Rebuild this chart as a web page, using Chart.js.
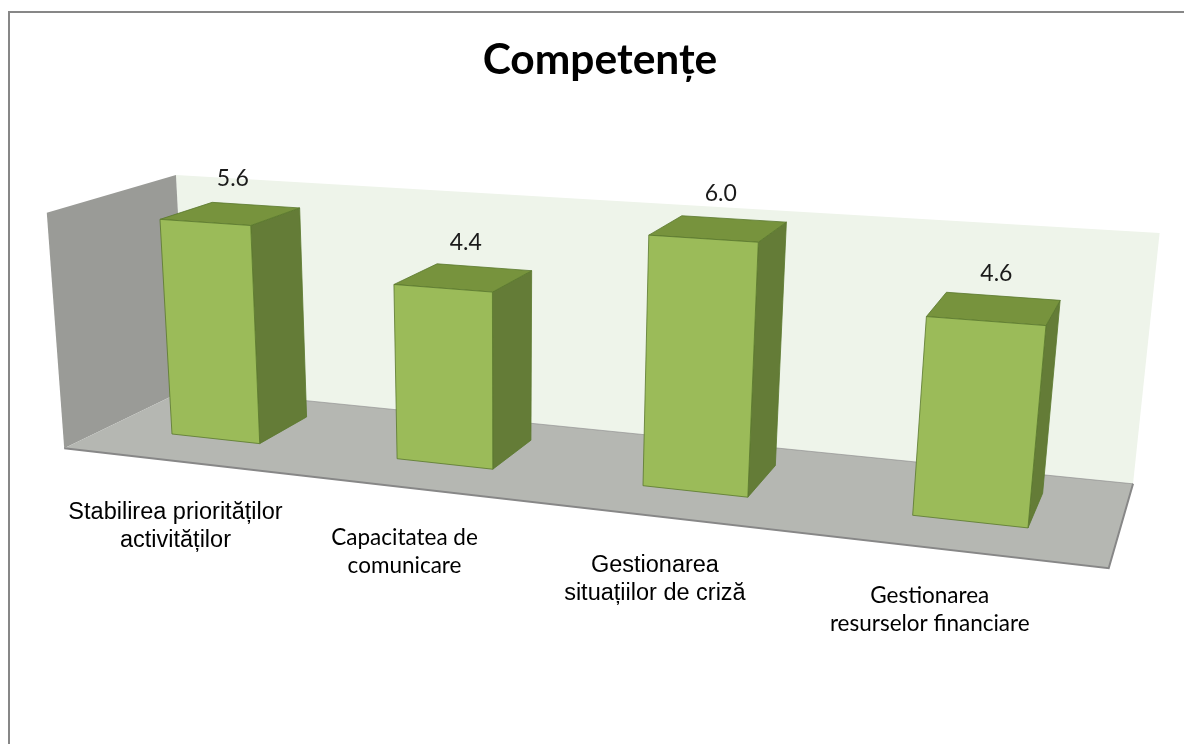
<!DOCTYPE html>
<html lang="ro">
<head>
<meta charset="UTF-8">
<title>Competențe</title>
<script src="https://cdn.jsdelivr.net/npm/chart.js"></script>
<style>
  html, body { margin: 0; padding: 0; background: #fff; }
  canvas { display: block; }
</style>
</head>
<body>
<canvas id="chart" width="1184" height="744"></canvas>
<script>
// data
const categories = [
  ['Stabilirea priorităților', 'activităților'],
  ['Capacitatea de', 'comunicare'],
  ['Gestionarea', 'situațiilor de criză'],
  ['Gestionarea', 'resurselor financiare']
];
const scores = [5.6, 4.4, 6.0, 4.6];
const axisMax = 6;

// look
const labelFonts = ['23.5px "Liberation Sans"', '22.5px Lato', '23.5px "Liberation Sans"', '22.5px Lato'];
const colors = {
  front: '#9bbb59', top: '#77933d', side: '#647c37', edge: 'rgba(90,120,45,0.8)',
  backWall: '#eef4ea', leftWall: '#9a9b97', floor: '#b5b7b2', rim: '#878787'
};

// Excel style 3D view: s = fraction along the x axis, v = value, z = depth
const view = {
  a: 823.0, b: -3.091, c: 108.1,
  d: 21.06, e: -39.19, f: 427.0,
  g: -0.1668, h: -0.006114,
  vpx: 1318, vpy: -158
};
const depth = { floorFront: -0.035, barBack: 0.045, wall: 0.07 };

function project(s, v, z) {
  const w = view.g * s + view.h * v + 1 + z;
  return [
    (view.a * s + view.b * v + view.c + view.vpx * z) / w,
    (view.d * s + view.e * v + view.f + view.vpy * z) / w
  ];
}

function poly(ctx, pts, fill, stroke) {
  ctx.beginPath();
  pts.forEach((p, i) => i ? ctx.lineTo(p[0], p[1]) : ctx.moveTo(p[0], p[1]));
  ctx.closePath();
  ctx.fillStyle = fill;
  ctx.fill();
  if (stroke) {
    ctx.strokeStyle = stroke;
    ctx.lineWidth = 1;
    ctx.stroke();
  }
}

const scene3d = {
  id: 'scene3d',
  beforeDraw(chart) {
    const ctx = chart.ctx;
    ctx.save();
    ctx.fillStyle = '#fff';
    ctx.fillRect(0, 0, chart.width, chart.height);
    ctx.strokeStyle = colors.rim;
    ctx.lineWidth = 2;
    ctx.beginPath();
    ctx.moveTo(9, chart.height);
    ctx.lineTo(9, 12);
    ctx.lineTo(chart.width, 12);
    ctx.stroke();
    ctx.restore();
  },
  beforeDatasetsDraw(chart) {
    const ctx = chart.ctx;
    const area = chart.chartArea;
    const ys = chart.scales.y;
    const top = ys.max;
    const ff = depth.floorFront, wz = depth.wall, bz = depth.barBack;
    ctx.save();

    // walls and floor
    poly(ctx, [project(0, 0, wz), project(1, 0, wz), project(1, top, wz), project(0, top, wz)], colors.backWall);
    poly(ctx, [project(0, 0, ff), project(0, 0, wz), project(0, top, wz), project(0, top, ff)], colors.leftWall);
    poly(ctx, [project(0, 0, ff), project(1, 0, ff), project(1, 0, wz), project(0, 0, wz)], colors.floor);
    ctx.strokeStyle = colors.rim;
    ctx.lineWidth = 2;
    ctx.beginPath();
    let p = project(0, 0, ff); ctx.moveTo(p[0], p[1]);
    p = project(1, 0, ff); ctx.lineTo(p[0], p[1]);
    p = project(1, 0, wz); ctx.lineTo(p[0], p[1]);
    ctx.stroke();
    ctx.lineWidth = 1;
    ctx.strokeStyle = 'rgba(135,135,135,0.6)';
    ctx.beginPath();
    p = project(0, 0, wz); ctx.moveTo(p[0], p[1]);
    p = project(1, 0, wz); ctx.lineTo(p[0], p[1]);
    ctx.stroke();

    // bars
    chart.getDatasetMeta(0).data.forEach((bar, i) => {
      const b = bar.getProps(['x', 'y', 'base', 'width'], true);
      const s0 = (b.x - b.width / 2 - area.left) / area.width;
      const s1 = (b.x + b.width / 2 - area.left) / area.width;
      const sc = (b.x - area.left) / area.width;
      const v = ys.getValueForPixel(b.y);
      const v0 = ys.getValueForPixel(b.base);

      poly(ctx, [project(s1, v0, 0), project(s1, v0, bz), project(s1, v, bz), project(s1, v, 0)], colors.side, colors.edge);
      poly(ctx, [project(s0, v, 0), project(s1, v, 0), project(s1, v, bz), project(s0, v, bz)], colors.top, colors.edge);
      poly(ctx, [project(s0, v0, 0), project(s1, v0, 0), project(s1, v, 0), project(s0, v, 0)], colors.front, colors.edge);

      // value label
      const lp = project(sc, v, bz / 2);
      ctx.fillStyle = '#1a1a1a';
      ctx.font = '23px Lato';
      ctx.textAlign = 'center';
      ctx.textBaseline = 'middle';
      ctx.fillText(scores[i].toFixed(1), lp[0] + 2, lp[1] - 35);

      // category label
      const cp = project(sc, v0, 0);
      ctx.fillStyle = '#000';
      ctx.font = labelFonts[i];
      chart.data.labels[i].forEach((line, k) => {
        ctx.fillText(line, cp[0] - 40, cp[1] + 74 + k * 28);
      });
    });

    ctx.restore();
    return false;
  }
};

new Chart(document.getElementById('chart'), {
  type: 'bar',
  data: {
    labels: categories,
    datasets: [{
      label: 'Competențe',
      data: scores,
      backgroundColor: colors.front,
      categoryPercentage: 0.8,
      barPercentage: 0.5
    }]
  },
  options: {
    responsive: false,
    animation: false,
    layout: { padding: { left: 16 } },
    plugins: {
      legend: { display: false },
      tooltip: { enabled: false },
      title: {
        display: true,
        text: 'Competențe',
        color: '#000',
        font: { family: 'Lato', size: 42.5, weight: 'bold' },
        padding: { top: 35, bottom: 10 }
      }
    },
    scales: {
      x: { display: false, offset: true },
      y: { display: false, min: 0, max: axisMax }
    }
  },
  plugins: [scene3d]
});
</script>
</body>
</html>
